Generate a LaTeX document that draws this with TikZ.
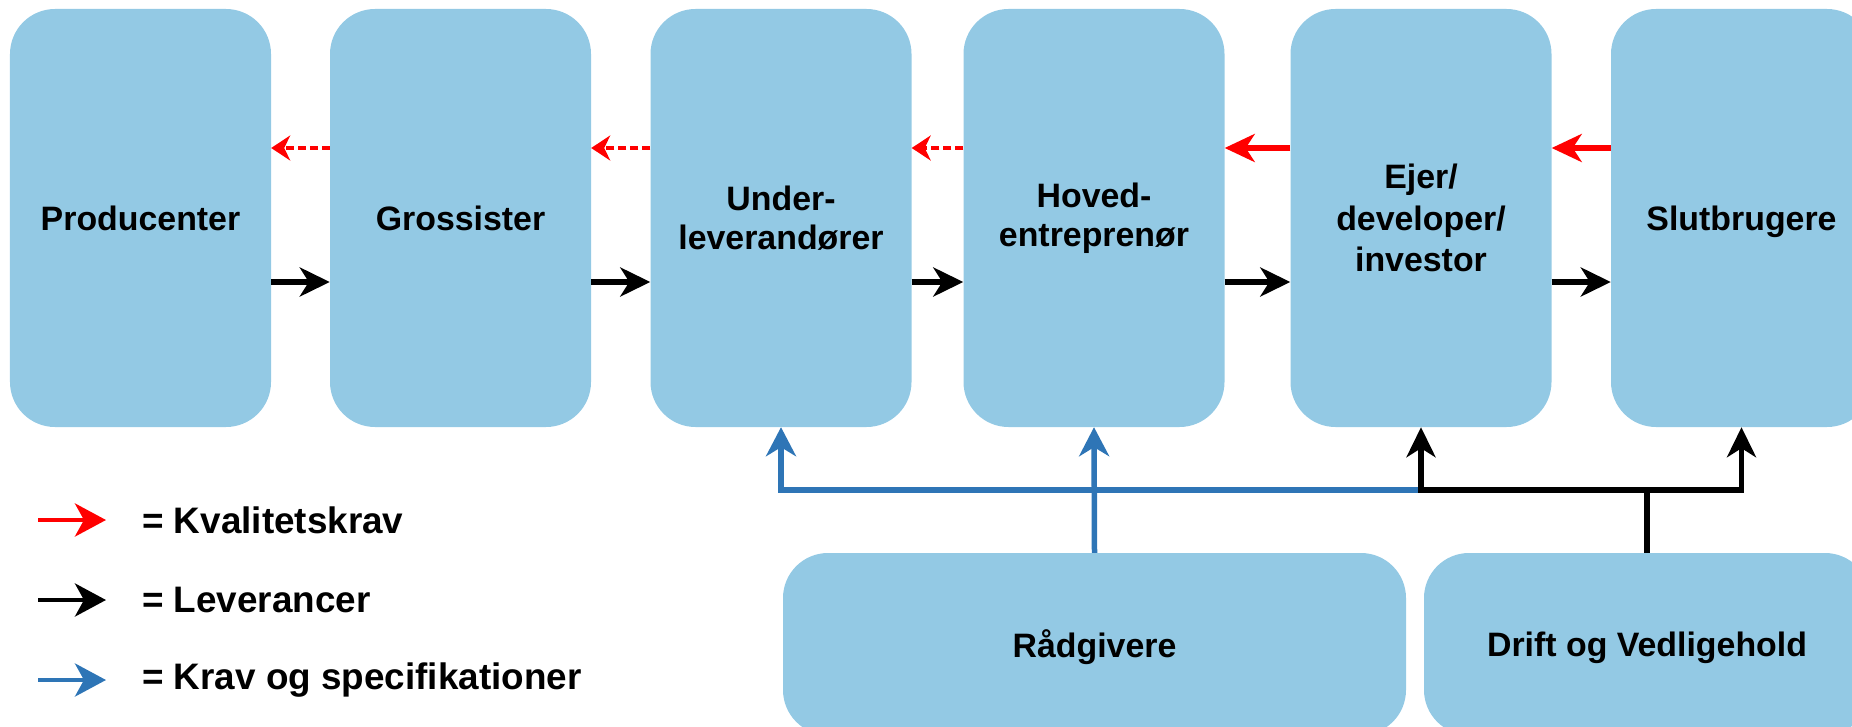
\documentclass[tikz,border=0pt]{standalone}
\usepackage{fontspec}
\setmainfont{Liberation Sans}
\usetikzlibrary{arrows.meta}
\definecolor{boxfill}{RGB}{147,201,228}
\definecolor{bluel}{RGB}{46,117,182}
\begin{document}
\begin{tikzpicture}[x=1bp,y=-1bp,
  box/.style={fill=boxfill, rounded corners=45bp, inner sep=0pt, align=center,
    font=\bfseries\fontsize{34}{39}\selectfont, text=black},
  topbox/.style={box, minimum width=261bp, minimum height=418bp},
  botbox/.style={box, minimum height=182bp, text depth=0pt},
  blk/.style={line width=5.5bp, draw=black, -{Stealth[length=30bp,width=29bp,inset=9bp]}},
  blkline/.style={line width=5.5bp, draw=black},
  redsolid/.style={line width=5.5bp, draw=red, -{Stealth[length=30bp,width=28bp,inset=9bp]}},
  reddash/.style={line width=3.5bp, draw=red, dash pattern=on 8bp off 4bp, -{Stealth[length=19bp,width=25bp,inset=6bp]}},
  blu/.style={line width=5.5bp, draw=bluel, -{Stealth[length=29bp,width=30bp,inset=9bp]}},
  legarr/.style={line width=4.5bp, -{Stealth[length=31bp,width=33bp,inset=9bp]}},
  legtxt/.style={anchor=west, inner sep=0pt, font=\bfseries\fontsize{37}{40}\selectfont}
]
\useasboundingbox (0,0) rectangle (1852,727);

% top row
\node[topbox] (prod)  at (140.5,218) {Producenter};
\node[topbox] (gros)  at (460.5,218) {Grossister};
\node[topbox] (under) at (781,218)   {Under-\\leverandører};
\node[topbox] (hoved) at (1094,218)  {Hoved-\\entreprenør};
\node[topbox, font=\bfseries\fontsize{34}{41.5}\selectfont] (ejer)  at (1421,218)  {Ejer/\\developer/\\investor};
\node[topbox, text depth=0pt] (slut)  at (1741.5,218) {Slutbrugere};

% bottom row
\node[botbox, minimum width=623bp] (rad)   at (1094.5,644) {Rådgivere};
\node[botbox, minimum width=446bp] (drift) at (1647,644)   {Drift og Vedligehold};

% helper rows
\coordinate (yr) at (0,148);
\coordinate (yb) at (0,282);
\coordinate (yj) at (0,490);

% red (kvalitetskrav)
\draw[reddash]  (gros.west |- yr)  -- (prod.east |- yr);
\draw[reddash]  (under.west |- yr) -- (gros.east |- yr);
\draw[reddash]  (hoved.west |- yr) -- (under.east |- yr);
\draw[redsolid] (ejer.west |- yr)  -- (hoved.east |- yr);
\draw[redsolid] (slut.west |- yr)  -- (ejer.east |- yr);

% black (leverancer)
\draw[blk] (prod.east |- yb)  -- (gros.west |- yb);
\draw[blk] (gros.east |- yb)  -- (under.west |- yb);
\draw[blk] (under.east |- yb) -- (hoved.west |- yb);
\draw[blk] (hoved.east |- yb) -- (ejer.west |- yb);
\draw[blk] (ejer.east |- yb)  -- (slut.west |- yb);

% blue (krav og specifikationer)
\draw[blu] (ejer.south |- yj) -| (under.south);
\draw[blu] (rad.north) -- (hoved.south);

% black from drift
\draw[blkline] (drift.north) -- (drift.north |- yj);
\draw[blk] (ejer.south |- yj) -| (slut.south);
\draw[blk, line cap=rect] (ejer.south |- yj) -- (ejer.south);

% legend
\coordinate (l1a) at (38,520);  \coordinate (l1b) at (106,520);
\coordinate (l2a) at (38,600);  \coordinate (l2b) at (106,600);
\coordinate (l3a) at (38,680);  \coordinate (l3b) at (106,680);
\draw[legarr, red]   (l1a) -- (l1b);
\draw[legarr, black] (l2a) -- (l2b);
\draw[legarr, bluel] (l3a) -- (l3b);
\node[legtxt] (t1) at (142,520) {= Kvalitetskrav};
\node[legtxt] (t2) at (142,600) {= Leverancer};
\node[legtxt] (t3) at (142,680) {= Krav og specifikationer};
\end{tikzpicture}
\end{document}
